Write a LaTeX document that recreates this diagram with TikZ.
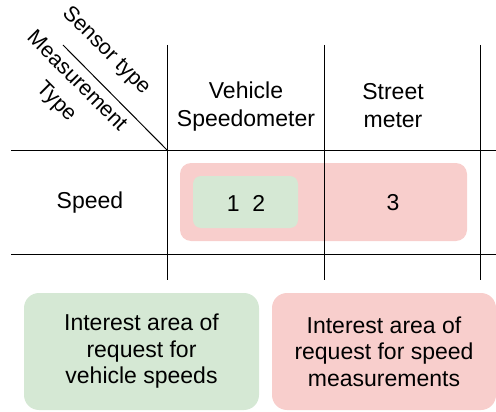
\documentclass[tikz,border=0pt]{standalone}
\usepackage{fontspec}
\setmainfont{Liberation Sans}
\definecolor{lgreen}{HTML}{D5E8D4}
\definecolor{lpink}{HTML}{F8CECC}
\begin{document}
\begin{tikzpicture}[x=1pt,y=-1pt,
  txt/.style={inner sep=0pt, align=center, font=\fontsize{23}{28}\selectfont},
  ltxt/.style={inner sep=0pt, align=center, font=\fontsize{23}{26.5}\selectfont},
  rtxt/.style={inner sep=0pt, align=center, rotate=-45, font=\fontsize{21.5}{29}\selectfont},
  grid/.style={line width=1pt, black}]
\useasboundingbox (0,0) rectangle (496,412);
% interest areas in the table
\fill[lpink, rounded corners=11pt] (180,163) rectangle (467,241);
\fill[lgreen, rounded corners=8pt] (193,176) rectangle (298,228);
% table lines
\draw[grid] (167,45) -- (167,280);
\draw[grid] (324,45) -- (324,280);
\draw[grid] (480,45) -- (480,280);
\draw[grid] (11,150) -- (496,150);
\draw[grid] (11,254) -- (496,254);
\draw[grid] (63,45) -- (167,150);
% header texts
\node[rtxt] (sensor) at (106,51) {Sensor type};
\node[rtxt] (meas) at (66,92) {Measurement\\Type};
\node[txt] (veh) at (246,107) {Vehicle\\Speedometer};
\node[txt] (street) at (393,106) {Street\\meter};
\node[txt] (speed) at (90,203) {Speed};
\node[txt] (n12) at (246,203) {1\ \ 2};
\node[txt] (n3) at (393,203) {3};
% legend boxes
\node[ltxt, fill=lgreen, rounded corners=15pt, minimum width=235pt, minimum height=117pt] (lg) at (141.5,351.5) {Interest area of\\request for\\vehicle speeds};
\node[ltxt, fill=lpink, rounded corners=15pt, minimum width=224pt, minimum height=117pt] (lp) at (384,351.5) {Interest area of\\request for speed\\measurements};
\end{tikzpicture}
\end{document}
